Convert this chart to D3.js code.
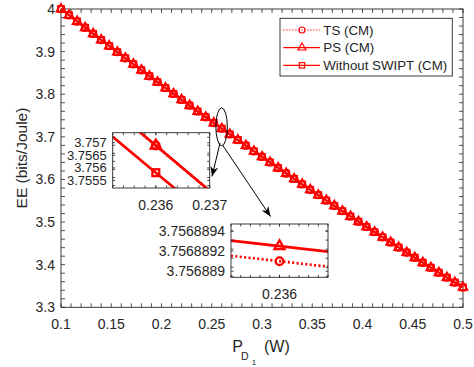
<!DOCTYPE html>
<html><head><meta charset="utf-8">
<script src="https://cdn.jsdelivr.net/npm/d3@7"></script>
<style>body{margin:0;background:#fff}svg{display:block}text{font-family:"Liberation Sans",Arial,Helvetica,sans-serif;fill:#262626}</style>
</head><body>
<svg id="c" width="474" height="367"></svg>
<script>
// ---------- data ----------
const pD1 = [0.100,0.108,0.116,0.124,0.132,0.140,0.148,0.156,0.164,0.172,0.180,0.188,0.196,0.204,0.212,0.220,0.228,0.236,0.244,0.252,0.260,0.268,0.276,0.284,0.292,0.300,0.308,0.316,0.324,0.332,0.340,0.348,0.356,0.364,0.372,0.380,0.388,0.396,0.404,0.412,0.420,0.428,0.436,0.444,0.452,0.460,0.468,0.476,0.484,0.492,0.500];
// the three curves coincide at the scale of the main axes
const eeCM = [4.0000,3.9854,3.9708,3.9562,3.9418,3.9274,3.9131,3.8988,3.8846,3.8705,3.8564,3.8424,3.8285,3.8146,3.8008,3.7870,3.7734,3.7597,3.7462,3.7327,3.7193,3.7059,3.6926,3.6794,3.6662,3.6531,3.6401,3.6271,3.6142,3.6014,3.5886,3.5759,3.5633,3.5507,3.5382,3.5257,3.5133,3.5010,3.4887,3.4765,3.4644,3.4523,3.4403,3.4284,3.4165,3.4047,3.3930,3.3813,3.3697,3.3581,3.3467];
const tsEE = eeCM, psEE = eeCM, noSwiptEE = eeCM;
// zoomed neighbourhood of P_D1 = 0.236
const zoomX = [0.228, 0.236, 0.244];
const tsZoom = [3.77128910, 3.75688910, 3.74248910];
const psZoom = [3.77128925, 3.75688925, 3.74248925];
const noSwiptZoom = [3.77005, 3.75581, 3.74157];
const seriesNames = ["TS (CM)", "PS (CM)", "Without SWIPT (CM)"];
const xTicks = [0.1,0.15,0.2,0.25,0.3,0.35,0.4,0.45,0.5];
const yTicks = [3.3,3.4,3.5,3.6,3.7,3.8,3.9,4];
const inset1XTicks = [0.236, 0.237];
const inset1YTicks = [3.7555, 3.756, 3.7565, 3.757];
const inset2XTicks = [0.236];
const inset2YTicks = [3.756889, 3.7568892, 3.7568894];

// ---------- setup ----------
const RED = "#FF0000", INK = "#262626";
const svg = d3.select("#c");
const defs = svg.append("defs");
const x = d3.scaleLinear().domain([0.1, 0.5]).range([61, 463]);
const y = d3.scaleLinear().domain([3.3, 4]).range([307.3, 9]);

function frame(g, xs, ys, xt, yt, xm, ym, len, fs, yfs) {
  const [x0, x1] = xs.range(), [y0, y1] = ys.range();
  g.append("rect").attr("x", x0).attr("y", y1).attr("width", x1 - x0).attr("height", y0 - y1)
    .attr("fill", "none").attr("stroke", INK).attr("stroke-width", 0.9);
  const tk = g.append("g").attr("stroke", INK).attr("stroke-width", 0.8);
  xt.concat(xm).forEach(v => {
    const px = xs(v);
    tk.append("line").attr("x1", px).attr("x2", px).attr("y1", y0).attr("y2", y0 - len);
    tk.append("line").attr("x1", px).attr("x2", px).attr("y1", y1).attr("y2", y1 + len);
  });
  yt.concat(ym).forEach(v => {
    const py = ys(v);
    tk.append("line").attr("y1", py).attr("y2", py).attr("x1", x0).attr("x2", x0 + len);
    tk.append("line").attr("y1", py).attr("y2", py).attr("x1", x1).attr("x2", x1 - len);
  });
  xt.forEach(v => g.append("text").attr("x", xs(v)).attr("y", y0 + 17.2).attr("dy", "0.35em")
    .attr("text-anchor", "middle").attr("font-size", fs).text(String(v)));
  yt.forEach(v => g.append("text").attr("x", x0 - 6).attr("y", ys(v)).attr("dy", "0.35em")
    .attr("text-anchor", "end").attr("font-size", yfs || fs).text(String(v)));
}

function marker(g, kind, cx, cy, s, sw) {
  if (kind === "circle") {
    g.append("circle").attr("cx", cx).attr("cy", cy).attr("r", s * 0.4)
      .attr("fill", "none").attr("stroke", RED).attr("stroke-width", sw);
  } else if (kind === "triangle") {
    g.append("path").attr("transform", `translate(${cx},${cy})`)
      .attr("d", d3.symbol(d3.symbolTriangle, s * s * 0.5)())
      .attr("fill", "none").attr("stroke", RED).attr("stroke-width", sw);
  } else {
    g.append("rect").attr("x", cx - s * 0.36).attr("y", cy - s * 0.36).attr("width", s * 0.72).attr("height", s * 0.72)
      .attr("fill", "none").attr("stroke", RED).attr("stroke-width", sw);
  }
}
const kinds = ["circle", "triangle", "square"];
const dashes = ["1.6 1.8", null, null];

// ---------- main axes ----------
const main = svg.append("g");
const xMinor = d3.range(0.11, 0.5, 0.01).filter(v => Math.abs(v * 20 - Math.round(v * 20)) > 1e-6);
const yMinor = d3.range(3.32, 4, 0.02).filter(v => Math.abs(v * 10 - Math.round(v * 10)) > 1e-6);
frame(main, x, y, xTicks, yTicks, xMinor, yMinor, 4, 14);

const mainSeries = [tsEE, psEE, noSwiptEE];
const line = d3.line().x((d, i) => x(pD1[i])).y(d => y(d));
mainSeries.forEach((vals, k) => {
  const g = main.append("g");
  g.append("path").datum(vals).attr("d", line).attr("fill", "none").attr("stroke", RED)
    .attr("stroke-width", 2).attr("stroke-dasharray", dashes[k]);
  vals.forEach((v, i) => marker(g, kinds[k], x(pD1[i]), y(v), 8.3, 1.8));
});

// axis labels
svg.append("text").attr("transform", "translate(22,158) rotate(-90)").attr("text-anchor", "middle")
  .attr("dy", "0.35em").attr("font-size", 15.5).text("EE (bits/Joule)");
const xl = svg.append("text").attr("y", 351.7);
xl.append("tspan").attr("x", 232.3).attr("font-size", 16).text("P");
xl.append("tspan").attr("x", 241).attr("dy", 8.3).attr("font-size", 10.5).text("D");
xl.append("tspan").attr("x", 251.8).attr("dy", 5.4).attr("font-size", 8).text("1");
xl.append("tspan").attr("x", 264).attr("dy", -13.7).attr("font-size", 16).text("(W)");

// ---------- ellipse & arrows ----------
const ann = svg.append("g");
ann.append("ellipse").attr("cx", x(0.2598)).attr("cy", y(3.7235))
  .attr("rx", x(0.2598 + 0.0057) - x(0.2598)).attr("ry", y(3.7235) - y(3.7235 + 0.0446))
  .attr("fill", "none").attr("stroke", "#000").attr("stroke-width", 1);
defs.append("marker").attr("id", "ah").attr("viewBox", "-10 -5 12 10")
  .attr("refX", 0).attr("refY", 0).attr("markerWidth", 12).attr("markerHeight", 10)
  .attr("markerUnits", "userSpaceOnUse").attr("orient", "auto")
  .append("path").attr("d", "M0,0 L-10,-4 L-7,0 L-10,4 Z").attr("fill", "#000");
ann.append("line").attr("x1", 220).attr("y1", 143).attr("x2", 212).attr("y2", 176.5)
  .attr("stroke", "#000").attr("stroke-width", 1).attr("marker-end", "url(#ah)");
ann.append("line").attr("x1", 222.5).attr("y1", 145).attr("x2", 270.5).attr("y2", 216.5)
  .attr("stroke", "#000").attr("stroke-width", 1).attr("marker-end", "url(#ah)");

// ---------- insets ----------
const zoomSeries = [tsZoom, psZoom, noSwiptZoom];
// clip each polyline segment to the x-domain so that dash patterns stay well-defined
function clipToDomain(xsArr, ysArr, lo, hi) {
  const out = [];
  for (let i = 0; i < xsArr.length - 1; i++) {
    const xa = xsArr[i], xb = xsArr[i + 1], ya = ysArr[i], yb = ysArr[i + 1];
    const a = Math.max(xa, lo), b = Math.min(xb, hi);
    if (a >= b) continue;
    const f = t => ya + (yb - ya) * ((t - xa) / (xb - xa));
    if (!out.length) out.push([a, f(a)]);
    out.push([b, f(b)]);
  }
  return out;
}
function inset(id, xDom, yDom, xr, yr, xt, yt, xm, ym, show, yfs) {
  const xs = d3.scaleLinear().domain(xDom).range(xr);
  const ys = d3.scaleLinear().domain(yDom).range(yr);
  const g = svg.append("g");
  g.append("rect").attr("x", xr[0]).attr("y", yr[1]).attr("width", xr[1] - xr[0]).attr("height", yr[0] - yr[1]).attr("fill", "#fff");
  defs.append("clipPath").attr("id", id).append("rect")
    .attr("x", xr[0]).attr("y", yr[1]).attr("width", xr[1] - xr[0]).attr("height", yr[0] - yr[1]);
  const pg = g.append("g").attr("clip-path", `url(#${id})`);
  const ln = d3.line().x(d => xs(d[0])).y(d => ys(d[1]));
  show.forEach(k => {
    pg.append("path").datum(clipToDomain(zoomX, zoomSeries[k], xDom[0], xDom[1])).attr("d", ln)
      .attr("fill", "none").attr("stroke", RED)
      .attr("stroke-width", 2.7).attr("stroke-dasharray", k === 0 ? "2 2.4" : null);
  });
  show.forEach(k => marker(pg, kinds[k], xs(zoomX[1]), ys(zoomSeries[k][1]), 9.5, 2.3));
  frame(g, xs, ys, xt, yt, xm, ym, 2.5, 14, yfs);
}
inset("clip1", [0.2352, 0.2370], [3.7552, 3.7574], [112.7, 209.7], [188, 132.7],
  inset1XTicks, inset1YTicks,
  d3.range(0.2352, 0.23705, 0.0002), d3.range(3.75722, 3.7552, -0.00032), [0, 1, 2], 13);
inset("clip2", [0.23599997, 0.23600003], [3.75688894, 3.75688947], [231, 328], [277.3, 224],
  inset2XTicks, inset2YTicks,
  d3.range(0.23599997, 0.236000031, 0.000000006), d3.range(3.75688940, 3.75688894, -0.00000009), [0, 1], 14);

// ---------- legend ----------
const lg = svg.append("g");
lg.append("rect").attr("x", 280).attr("y", 18.3).attr("width", 172.3).attr("height", 57.7)
  .attr("fill", "#fff").attr("stroke", INK).attr("stroke-width", 0.9);
seriesNames.forEach((name, k) => {
  const cy = 30 + k * 17.65;
  lg.append("line").attr("x1", 283.3).attr("x2", 320).attr("y1", cy).attr("y2", cy)
    .attr("stroke", RED).attr("stroke-width", 1.2).attr("stroke-dasharray", k === 0 ? "1.3 1.7" : null);
  marker(lg, kinds[k], 302, cy, 7.5, 1.2);
  lg.append("text").attr("x", 323.3).attr("y", cy).attr("dy", "0.35em").attr("font-size", 13.3).text(name);
});
</script>
</body></html>
